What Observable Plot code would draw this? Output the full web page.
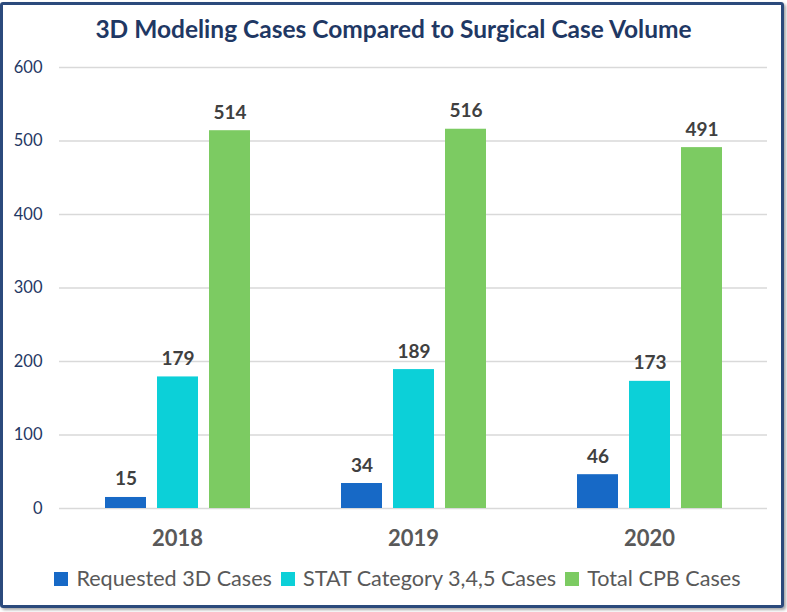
<!DOCTYPE html>
<html>
<head>
<meta charset="utf-8">
<script src="https://cdn.jsdelivr.net/npm/d3@7"></script>
<script src="https://cdn.jsdelivr.net/npm/@observablehq/plot@0.6"></script>
<style>
  html, body { margin: 0; padding: 0; background: #fff; }
  body { width: 787px; height: 612px; position: relative; overflow: hidden; font-family: Lato, "Open Sans", sans-serif; }
  #frame { position: absolute; left: 0; top: 2px; width: 784px; height: 606px; box-sizing: border-box;
           border: 3px solid #2b4a7c; border-radius: 3px; box-shadow: 2px 2px 3px rgba(0,0,0,0.35); pointer-events: none; }
  #title { position: absolute; left: 0; width: 787px; top: 17px; text-align: center; font-size: 24.5px; line-height: 24px;
           font-weight: 700; color: #1f3864; white-space: nowrap; }
  #chart { position: absolute; left: 0; top: 50px; }
  #legend { position: absolute; left: 0; width: 787px; top: 568px; display: flex; justify-content: center; gap: 9px;
            font-size: 21.6px; line-height: 21px; color: #595959; white-space: nowrap; padding-left: 8px; box-sizing: border-box; }
  .item { display: flex; align-items: center; gap: 8px; }
  .sw { width: 14px; height: 14px; display: inline-block; }
</style>
</head>
<body>
<div id="title">3D Modeling Cases Compared to Surgical Case Volume</div>
<div id="chart"></div>
<div id="legend"></div>
<div id="frame"></div>
<script>
const years = ["2018", "2019", "2020"];
const seriesNames = ["Requested 3D Cases", "STAT Category 3,4,5 Cases", "Total CPB Cases"];
const requested3D = [15, 34, 46];
const statCases = [179, 189, 173];
const totalCPB = [514, 516, 491];
const seriesColors = ["#1769c6", "#0cd0d8", "#7ccb62"];
const yTicks = [0, 100, 200, 300, 400, 500, 600];

const seriesValues = [requested3D, statCases, totalCPB];
const data = [];
years.forEach((yr, i) => {
  seriesNames.forEach((s, j) => data.push({year: yr, series: s, value: seriesValues[j][i]}));
});

const chart = Plot.plot({
  width: 787,
  height: 510,
  marginLeft: 58,
  marginRight: 19,
  marginTop: 17,
  marginBottom: 52,
  style: {fontFamily: "Lato, 'Open Sans', sans-serif", background: "transparent"},
  fx: {domain: years, padding: 0, label: null},
  x: {domain: seriesNames, paddingInner: 0.216, paddingOuter: 0.87, axis: null},
  y: {domain: [0, 600], label: null},
  color: {domain: seriesNames, range: seriesColors},
  marks: [
    Plot.gridY(yTicks, {stroke: "#d9d9d9", strokeOpacity: 1, strokeWidth: 1.3}),
    Plot.axisY(yTicks, {tickSize: 0, tickPadding: 17, fontSize: 16.5, fill: "#1f3864", label: null}),
    Plot.axisFx({anchor: "bottom", tickSize: 0, tickPadding: 22, fontSize: 22, fontWeight: 700, fill: "#595959", label: null}),
    Plot.barY(data, {fx: "year", x: "series", y: "value", fill: "series"}),
    Plot.text(data, {fx: "year", x: "series", y: "value", text: d => String(d.value), dy: -12,
      lineAnchor: "bottom", fontSize: 19, fontWeight: 700, fill: "#404040"})
  ]
});
document.getElementById("chart").appendChild(chart);

const legend = document.getElementById("legend");
seriesNames.forEach((s, i) => {
  const it = document.createElement("span");
  it.className = "item";
  const sw = document.createElement("span");
  sw.className = "sw";
  sw.style.background = seriesColors[i];
  const tx = document.createElement("span");
  tx.textContent = s;
  it.appendChild(sw); it.appendChild(tx);
  legend.appendChild(it);
});
</script>
</body>
</html>
